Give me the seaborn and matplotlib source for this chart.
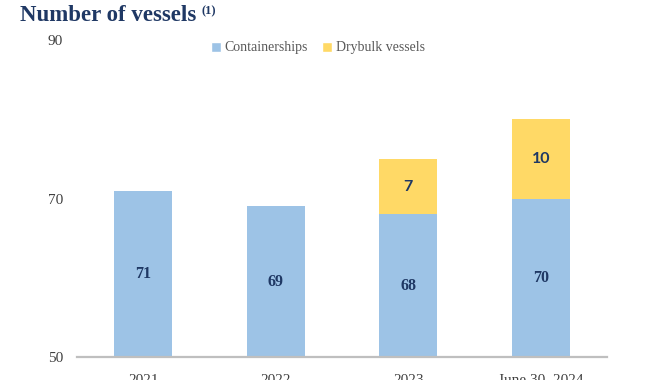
import matplotlib
matplotlib.use("Agg")
import matplotlib.pyplot as plt
import seaborn as sns
import pandas as pd
from matplotlib.patches import Patch

categories = ["2021", "2022", "2023", "June 30, 2024"]
containerships = [71, 69, 68, 70]
drybulk = [0, 0, 7, 10]
y_ticks = [50, 70, 90]

blue = "#9DC3E6"
yellow = "#FFD966"
navy = "#1F3864"

sns.set_theme(style="white")
plt.rcParams["font.family"] = ["Liberation Serif", "DejaVu Serif"]

df = pd.DataFrame({
    "category": categories,
    "containerships": containerships,
    "drybulk": drybulk,
})
df["total"] = df["containerships"] + df["drybulk"]

fig = plt.figure(figsize=(6.7, 3.8), dpi=100)
ax = fig.add_axes([77 / 670, 1 - 357 / 380, 530 / 670, 317 / 380])

sns.barplot(data=df, x="category", y="total", color=yellow, width=0.44,
            saturation=1, ax=ax, linewidth=0)
sns.barplot(data=df, x="category", y="containerships", color=blue, width=0.44,
            saturation=1, ax=ax, linewidth=0)

ax.set_ylim(50, 90)
ax.set_xlim(-0.5, 3.5)
ax.set_yticks(y_ticks)
ax.set_xlabel("")
ax.set_ylabel("")
for s in ["top", "right", "left"]:
    ax.spines[s].set_visible(False)
ax.spines["bottom"].set_color("#BFBFBF")
ax.spines["bottom"].set_linewidth(1.6)
ax.tick_params(axis="both", length=0, labelsize=11, labelcolor="#404040")
ax.tick_params(axis="x", pad=12)
ax.tick_params(axis="y", pad=10)
ax.grid(False)

for i, (c, d) in enumerate(zip(containerships, drybulk)):
    ax.text(i, (50 + c) / 2, str(c), ha="center", va="center",
            fontsize=11.5, fontweight="bold", color=navy,
            family=["Liberation Serif", "DejaVu Serif"])
    if d > 0:
        ax.text(i, c + d / 2, str(d), ha="center", va="center",
                fontsize=11.5, fontweight="bold", color=navy,
                family=["Lato", "DejaVu Sans"])

handles = [Patch(facecolor=blue, label="Containerships"),
           Patch(facecolor=yellow, label="Drybulk vessels")]
leg = fig.legend(handles=handles, loc="center", bbox_to_anchor=(318 / 670, 1 - 48 / 380),
                 ncol=2, frameon=False, fontsize=10, handlelength=0.7, handleheight=0.7,
                 handletextpad=0.3, columnspacing=1.0)
for t in leg.get_texts():
    t.set_color("#595959")

title = fig.text(20 / 670, 1 - 21 / 380, "Number of vessels", fontsize=16.5,
                 fontweight="bold", color=navy, ha="left", va="baseline")
ax.annotate("(1)", xy=(1, 1), xycoords=title, xytext=(4, 0),
            textcoords="offset points", fontsize=9, fontweight="bold",
            color=navy, ha="left", va="top", annotation_clip=False)

fig.savefig("out.png", dpi=100)
